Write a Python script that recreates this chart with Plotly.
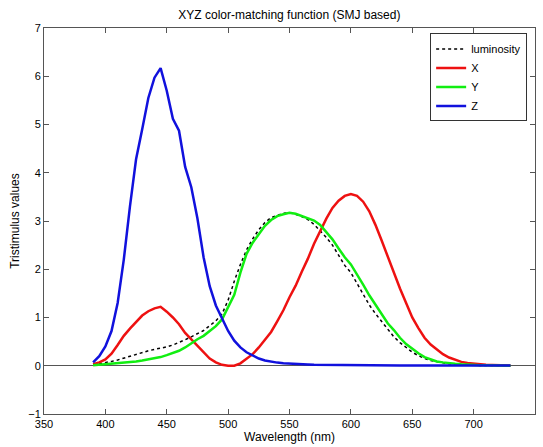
import plotly.graph_objects as go

wavelength = list(range(390, 735, 5))

luminosity = [0.02, 0.04, 0.06, 0.09, 0.12, 0.16, 0.20, 0.24, 0.28, 0.31,
              0.34, 0.36, 0.39, 0.43, 0.48, 0.54, 0.60, 0.66, 0.73, 0.83,
              0.93, 1.07, 1.36, 1.75, 2.10, 2.40, 2.63, 2.82, 2.97, 3.07,
              3.12, 3.16, 3.17, 3.14, 3.09, 3.03, 2.93, 2.80, 2.66, 2.50,
              2.30, 2.08, 1.93, 1.70, 1.48, 1.26, 1.08, 0.92, 0.75, 0.60,
              0.48, 0.37, 0.28, 0.21, 0.15, 0.11, 0.08, 0.06, 0.04, 0.03,
              0.02, 0.015, 0.01, 0.007, 0.005, 0.004, 0.003, 0.002, 0.002]

X = [0.03, 0.07, 0.13, 0.25, 0.43, 0.62, 0.77, 0.90, 1.04, 1.13,
     1.19, 1.22, 1.12, 1.00, 0.86, 0.68, 0.55, 0.42, 0.28, 0.15,
     0.07, 0.02, 0.00, 0.00, 0.05, 0.14, 0.24, 0.38, 0.53, 0.70,
     0.92, 1.15, 1.42, 1.66, 1.95, 2.22, 2.53, 2.80, 3.05, 3.27,
     3.42, 3.52, 3.56, 3.52, 3.40, 3.20, 2.92, 2.60, 2.26, 1.92,
     1.60, 1.30, 1.00, 0.78, 0.58, 0.44, 0.33, 0.24, 0.17, 0.12,
     0.08, 0.055, 0.04, 0.03, 0.02, 0.015, 0.01, 0.007, 0.005]

Y = [0.01, 0.02, 0.03, 0.04, 0.05, 0.06, 0.08, 0.09, 0.11, 0.13,
     0.15, 0.18, 0.22, 0.26, 0.31, 0.38, 0.47, 0.55, 0.62, 0.73,
     0.82, 0.96, 1.20, 1.47, 1.93, 2.32, 2.55, 2.72, 2.90, 3.02,
     3.10, 3.14, 3.17, 3.15, 3.10, 3.05, 3.01, 2.92, 2.76, 2.62,
     2.43, 2.25, 2.10, 1.90, 1.68, 1.46, 1.26, 1.06, 0.88, 0.74,
     0.58, 0.45, 0.35, 0.26, 0.18, 0.13, 0.09, 0.07, 0.05, 0.04,
     0.03, 0.02, 0.015, 0.01, 0.008, 0.006, 0.004, 0.003, 0.002]

Z = [0.07, 0.20, 0.40, 0.72, 1.30, 2.20, 3.30, 4.28, 4.90, 5.55,
     5.97, 6.17, 5.70, 5.12, 4.87, 4.12, 3.70, 3.05, 2.25, 1.65,
     1.25, 1.00, 0.72, 0.52, 0.38, 0.28, 0.21, 0.15, 0.11, 0.08,
     0.065, 0.05, 0.04, 0.035, 0.03, 0.025, 0.02, 0.018, 0.015, 0.012,
     0.01, 0.008, 0.006, 0.005, 0.005, 0.005, 0.005, 0.005, 0.005, 0.005,
     0.005, 0.005, 0.005, 0.005, 0.005, 0.005, 0.005, 0.005, 0.005, 0.005,
     0.005, 0.005, 0.005, 0.005, 0.005, 0.005, 0.005, 0.005, 0.005]

x_ticks = [350, 400, 450, 500, 550, 600, 650, 700, 750]
y_ticks = [-1, 0, 1, 2, 3, 4, 5, 6, 7]

fig = go.Figure()
fig.add_trace(go.Scatter(x=wavelength, y=luminosity, name="luminosity", mode="lines",
                         line=dict(color="#000000", width=1.5, dash="dot")))
fig.add_trace(go.Scatter(x=wavelength, y=X, name="X", mode="lines",
                         line=dict(color="#ee1111", width=2.5)))
fig.add_trace(go.Scatter(x=wavelength, y=Y, name="Y", mode="lines",
                         line=dict(color="#11ee11", width=2.5)))
fig.add_trace(go.Scatter(x=wavelength, y=Z, name="Z", mode="lines",
                         line=dict(color="#1111dd", width=2.5)))

axis_common = dict(showline=True, linecolor="#555555", linewidth=1, mirror="ticks",
                   ticks="inside", ticklen=5, tickcolor="#555555", showgrid=False,
                   automargin=False, tickfont=dict(size=11, color="#000000"))

fig.update_layout(
    width=543, height=447,
    margin=dict(l=44, r=8, t=28, b=33, autoexpand=False),
    paper_bgcolor="white", plot_bgcolor="white",
    font=dict(family="Liberation Sans, Arial, sans-serif", size=11, color="#000000"),
    title=dict(text="XYZ color-matching function (SMJ based)", x=0.533, xanchor="center",
               yref="container", y=0.967, yanchor="middle", font=dict(size=12),
               automargin=False),
    xaxis=dict(range=[350, 750], tickvals=x_ticks, zeroline=False,
               title=dict(text="Wavelength (nm)", font=dict(size=12), standoff=0),
               **axis_common),
    yaxis=dict(range=[-1, 7], tickvals=y_ticks, zeroline=True, zerolinecolor="#555555",
               zerolinewidth=1,
               title=dict(text="Tristimulus values", font=dict(size=12), standoff=6),
               **axis_common),
    legend=dict(x=0.984, y=0.986, xanchor="right", yanchor="top",
                bordercolor="#333333", borderwidth=1, bgcolor="white",
                font=dict(size=11), tracegroupgap=0, itemwidth=30),
    showlegend=True,
)

fig.write_html("out.html", config={"displayModeBar": False},
               post_script="document.body.style.margin='0';document.body.style.overflow='hidden';")
